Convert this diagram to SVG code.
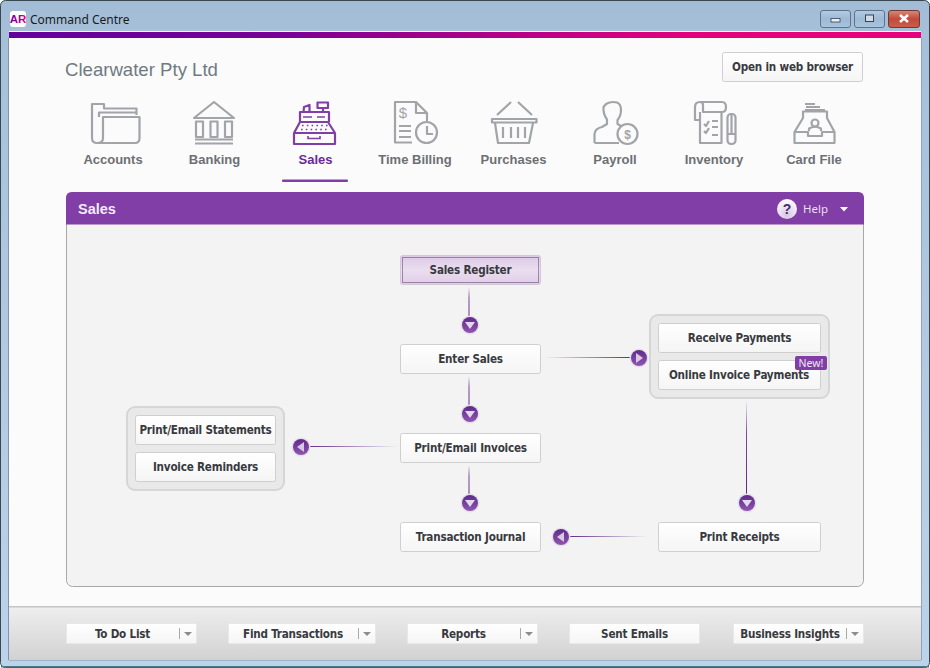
<svg xmlns="http://www.w3.org/2000/svg" width="930" height="668" viewBox="0 0 930 668">
<defs>
<linearGradient id="chrome" x1="0" y1="0" x2="0" y2="1"><stop offset="0" stop-color="#a3bcd6"/><stop offset="0.05" stop-color="#a6c0da"/><stop offset="1" stop-color="#bcd4e9"/></linearGradient>
<linearGradient id="bar" x1="0" y1="0" x2="1" y2="0"><stop offset="0" stop-color="#65009a"/><stop offset="0.3" stop-color="#7a0095"/><stop offset="0.75" stop-color="#e4007a"/><stop offset="1" stop-color="#e8007a"/></linearGradient>
<linearGradient id="foot" x1="0" y1="0" x2="0" y2="1"><stop offset="0" stop-color="#eeeeee"/><stop offset="1" stop-color="#d2d2d2"/></linearGradient>
<linearGradient id="btn" x1="0" y1="0" x2="0" y2="1"><stop offset="0" stop-color="#ffffff"/><stop offset="1" stop-color="#f5f5f5"/></linearGradient>
<linearGradient id="sel" x1="0" y1="0" x2="0" y2="1"><stop offset="0" stop-color="#dcc8e6"/><stop offset="0.5" stop-color="#ebdef0"/><stop offset="1" stop-color="#e0cce8"/></linearGradient>
<linearGradient id="dot" x1="0" y1="0" x2="0" y2="1"><stop offset="0" stop-color="#5f2a8c"/><stop offset="1" stop-color="#8f55b0"/></linearGradient>
<linearGradient id="v" x1="0" y1="0" x2="0" y2="1"><stop offset="0" stop-color="#f3f3f3"/><stop offset="0.35" stop-color="#7a4a98"/><stop offset="1" stop-color="#5f2a8c"/></linearGradient>
<linearGradient id="hr" x1="0" y1="0" x2="1" y2="0"><stop offset="0" stop-color="#f3f3f3"/><stop offset="1" stop-color="#5f2a8c"/></linearGradient>
<linearGradient id="hl" x1="0" y1="0" x2="1" y2="0"><stop offset="0" stop-color="#5f2a8c"/><stop offset="1" stop-color="#f3f3f3"/></linearGradient>
<linearGradient id="win" x1="0" y1="0" x2="0" y2="1"><stop offset="0" stop-color="#b4cbe2"/><stop offset="0.5" stop-color="#9db9d6"/><stop offset="1" stop-color="#aac4de"/></linearGradient>
<linearGradient id="close" x1="0" y1="0" x2="0" y2="1"><stop offset="0" stop-color="#d98a7c"/><stop offset="0.5" stop-color="#c24a3a"/><stop offset="1" stop-color="#c8604c"/></linearGradient>
<linearGradient id="ar" x1="0" y1="0" x2="1" y2="0"><stop offset="0" stop-color="#65009a"/><stop offset="1" stop-color="#e4007a"/></linearGradient>
<radialGradient id="help" cx="0.5" cy="0.8" r="0.8"><stop offset="0" stop-color="#d9c4e6"/><stop offset="1" stop-color="#ffffff"/></radialGradient>
<g id="dn"><circle r="9.5" fill="#e6e0ea"/><circle r="8" fill="url(#dot)"/><path d="M-5,-3 H5 L0,4 Z" fill="#e4d8ec"/></g>
<g id="rt"><circle r="9.5" fill="#e6e0ea"/><circle r="8" fill="url(#dot)"/><path d="M-3,-5 V5 L4,0 Z" fill="#d8c8e2"/></g>
<g id="lf"><circle r="9.5" fill="#e6e0ea"/><circle r="8" fill="url(#dot)"/><path d="M3,-5 V5 L-4,0 Z" fill="#d8c8e2"/></g>
</defs>
<style>
text{font-family:"DejaVu Sans",sans-serif}
.nav{font-family:"Liberation Sans",Arial,sans-serif;font-size:13px;font-weight:700;fill:#6d6f73;text-anchor:middle}
.btn{font-family:"DejaVu Sans",sans-serif;font-stretch:condensed;font-size:11.6px;letter-spacing:-0.2px;font-weight:700;fill:#383a3f;text-anchor:middle}
.box{fill:url(#btn);stroke:#cfcfcf;stroke-width:1}
.grp{fill:#e9e9e9;stroke:#d6d6d6;stroke-width:2}
.ic{fill:none;stroke:#a2a4a8;stroke-width:2.2;stroke-linejoin:round}
.ics{fill:none;stroke:#7f3fa5;stroke-width:2.2;stroke-linejoin:round}
.ft{fill:url(#btn);stroke:#e8e8e8;stroke-width:1}
.tri{fill:#8c8c8c}
.sep{stroke:#a9a9a9;stroke-width:1}
</style>
<g id="window">
<rect x="0.5" y="0.5" width="929" height="667" rx="5" fill="url(#chrome)" stroke="#3a4650"/>
<rect x="9" y="38" width="912" height="622" fill="#fbfbfc"/>
<rect x="9" y="31" width="912" height="7" fill="url(#bar)"/>
<rect x="9" y="31" width="912" height="1" fill="#f4f4f8"/>
<rect x="921" y="38" width="1" height="622" fill="#8fa4b8"/>
<rect x="8" y="38" width="1" height="622" fill="#7f94a8"/>
<rect x="9" y="607" width="912" height="53" fill="url(#foot)"/>
<rect x="9" y="606" width="912" height="1.5" fill="#c4c4c4"/>
<rect x="9" y="660" width="912" height="1" fill="#9fb4c8"/>
<rect x="1" y="666" width="928" height="1.5" fill="#4f7a86"/>
</g>
<g id="titlebar">
<rect x="10" y="11" width="16" height="16" rx="3" fill="#ffffff"/>
<text x="18" y="23" font-size="11.5" font-weight="700" fill="url(#ar)" text-anchor="middle" style="font-family:'Liberation Sans',sans-serif">AR</text>
<text x="30" y="24" font-size="12" fill="#1a1a1a" style="font-family:'Noto Sans',sans-serif">Command Centre</text>
<rect x="820.500" y="10.500" width="30" height="17" rx="2.500" fill="url(#win)" stroke="#5f7388"/>
<rect x="854.500" y="10.500" width="30" height="17" rx="2.500" fill="url(#win)" stroke="#5f7388"/>
<rect x="888.500" y="10.500" width="31" height="17" rx="2.500" fill="url(#close)" stroke="#6f3a34"/>
<rect x="831" y="18.500" width="9" height="3.500" fill="#e8eef4" stroke="#36424e" stroke-width="0.8"/>
<rect x="865.500" y="15" width="8" height="6.500" fill="#cfdbe6" stroke="#36424e" stroke-width="1"/>
<path d="M900,15 L908,22 M908,15 L900,22" stroke="#ffffff" stroke-width="2.500"/>
</g>
<g id="header">
<text x="65" y="76" font-size="18.600" fill="#6f7a82" style="font-family:'Liberation Sans',sans-serif">Clearwater Pty Ltd</text>
<rect x="722.500" y="52.500" width="140" height="29" rx="2" class="box"/>
<text class="btn" x="792.500" y="71">Open in web browser</text>
</g>
<g id="nav-accounts">
<path class="ic" d="M92,118 V104 H104 V108.500 H136.500 V115 M99,117 V112.500 H136 M92,118 V138 Q92,143 97,143 H135 Q139.500,143 139.500,138 V117 H103 V138 Q103,143 97,143"/>
<text class="nav" x="113" y="163.500">Accounts</text>
</g>
<g id="nav-banking">
<path class="ic" d="M194,118 L214,102 L234,118 Z"/>
<path class="ic" stroke-width="1.800" d="M196,121.500 V137 H203 V121.500 Z M210.500,121.500 V137 H217.500 V121.500 Z M225,121.500 V137 H232 V121.500 Z M195,139.500 H233 M195,143.500 H233"/>
<text class="nav" x="214.500" y="163.500">Banking</text>
</g>
<g id="nav-sales">
<path class="ics" d="M294,144 V133 H335 V144 Z M294,133 L300,122 H328 L335,133 M300,122 V112 H329 V122 M303.500,112 L304,107 L309.500,105 V112 M323,112 V108 M317.500,102.500 H328 V108 H317.500 Z"/>
<path d="M303,117 H312 M317,117 H325 M308,136 V138.500 H320 V136" stroke="#7f3fa5" stroke-width="1.600" fill="none"/>
<path d="M302,125.500 H328 M301,129.500 H329" stroke="#7f3fa5" stroke-width="1.600" stroke-dasharray="1.600 3.200" fill="none"/>
<text class="nav" x="315.500" y="163.500" style="fill:#6b2a96">Sales</text>
<rect x="282" y="179.500" width="66" height="2.500" rx="1" fill="#7f3fa5"/>
</g>
<g id="nav-billing">
<path class="ic" d="M412,142.500 H395 V102 H416 L427,113 V121 M416,102 V113 H427 M399,126 H411 M399,131 H411 M399,137 H411"/>
<circle class="ic" cx="426.500" cy="132.500" r="10.500"/>
<path class="ic" stroke-width="1.800" d="M427,126 V134 H433"/>
<text x="403" y="118" font-size="15" fill="#a2a4a8" text-anchor="middle" style="font-family:'Liberation Sans',sans-serif">$</text>
<text class="nav" x="415" y="163.500">Time Billing</text>
</g>
<g id="nav-purchases">
<path class="ic" d="M497,115 L511,102 M518,102 L532,115 M492,119 H536.500 V122.500 H492 Z M495,123 L498,143 H529 L533,123"/>
<path class="ic" stroke-width="1.800" d="M503,127 V138 M511,127 V138 M518,127 V138 M525,127 V138"/>
<text class="nav" x="513.500" y="163.500">Purchases</text>
</g>
<g id="nav-payroll">
<path class="ic" d="M594.500,143 V134 Q595,128.500 602,127 L607,124 V119.500 Q603,114 603.500,107 L606,104 Q611,101 617,102.500 Q621,104 621,110 Q621,116 617.500,120 V124 L621,126 M594.500,143 H619"/>
<circle class="ic" cx="627.500" cy="134" r="10"/>
<text x="627.500" y="138.500" font-size="12" font-weight="700" fill="#a2a4a8" text-anchor="middle" style="font-family:'Liberation Sans',sans-serif">$</text>
<text class="nav" x="615" y="163.500">Payroll</text>
</g>
<g id="nav-inventory">
<path class="ic" d="M699,120 H695 V107 Q695,102 700,102 H722 Q726,102 726,107 Q726,112 722,112 H703 V105 Q703,102 700,102 M700,112 V143 H721.500 V113"/>
<path class="ic" stroke-width="1.800" d="M704,124 L706,126 L709,121 M704,131 L706,133 L709,128 M712,121 H718 M712,127 H718 M712,135 H718"/>
<rect class="ic" x="727.500" y="114" width="8" height="30" rx="3.500"/>
<path class="ic" stroke-width="1.500" d="M731.500,115 V134 M727.500,134 H735.500"/>
<text class="nav" x="714" y="163.500">Inventory</text>
</g>
<g id="nav-card">
<path class="ic" d="M794.500,143 V132 L803,118 V111.500 H827 V118 L834.500,132 V143 Z M794.500,132 H808 V136 H822 V132 H834.500 M805,110 H825 M806,107 H820 M805,104 H815"/>
<circle class="ic" cx="815" cy="123" r="3.500" stroke-width="1.800"/>
<path class="ic" stroke-width="1.800" d="M809,131 V128.500 Q815,125 821,128.500 V131"/>
<text class="nav" x="814" y="163.500">Card File</text>
</g>
<g id="panel">
<rect x="66.500" y="192.500" width="797" height="394" rx="6" fill="#f3f3f3" stroke="#a8a8a8"/>
<path d="M66,224.500 V198 Q66,192 72,192 H858 Q864,192 864,198 V224.500 Z" fill="#813ea6"/>
<text x="78" y="214" font-size="14.500" font-weight="700" fill="#f3ecf7" style="font-family:'Liberation Sans',sans-serif">Sales</text>
<circle cx="787" cy="209" r="10" fill="url(#help)"/>
<text x="787" y="214" font-size="14" font-weight="700" fill="#4a2a6a" text-anchor="middle" style="font-family:'Liberation Sans',sans-serif">?</text>
<text x="803" y="213" font-size="11.500" fill="#eadff0" style="font-family:'Noto Sans',sans-serif">Help</text>
<path d="M840,207 H848 L844,211.500 Z" fill="#ffffff"/>
</g>
<g id="connectors" fill="none" stroke-width="1">
<rect x="468.500" y="287" width="1" height="30" fill="url(#v)"/>
<rect x="468.500" y="376" width="1" height="30" fill="url(#v)"/>
<rect x="468.500" y="465" width="1" height="30" fill="url(#v)"/>
<rect x="746" y="400" width="1" height="95" fill="url(#v)"/>
<rect x="544" y="357" width="88" height="1" fill="url(#hr)"/>
<rect x="308" y="446" width="90" height="1" fill="url(#hl)"/>
<rect x="569" y="536" width="78" height="1" fill="url(#hl)"/>
<use href="#dn" x="470" y="325"/>
<use href="#dn" x="470" y="414"/>
<use href="#dn" x="470" y="503"/>
<use href="#dn" x="747" y="503"/>
<use href="#rt" x="639" y="358"/>
<use href="#lf" x="301" y="447"/>
<use href="#lf" x="561" y="537"/>
</g>
<g id="node-sales-register">
<rect x="400.500" y="255.500" width="140" height="29" rx="2" fill="url(#sel)" stroke="#d8c4e0"/>
<rect x="402.500" y="257.500" width="136" height="25" fill="none" stroke="#4a3a55" stroke-width="1" stroke-dasharray="1 1"/>
<text class="btn" x="470.500" y="274">Sales Register</text>
</g>
<g id="node-enter-sales">
<rect class="box" x="400.500" y="344.500" width="140" height="29" rx="2"/>
<text class="btn" x="470.500" y="363">Enter Sales</text>
</g>
<g id="node-print-invoices">
<rect class="box" x="400.500" y="433.500" width="140" height="29" rx="2"/>
<text class="btn" x="470.500" y="452">Print/Email Invoices</text>
</g>
<g id="node-journal">
<rect class="box" x="400.500" y="522.500" width="140" height="29" rx="2"/>
<text class="btn" x="470.500" y="541">Transaction Journal</text>
</g>
<g id="node-receipts">
<rect class="box" x="658.500" y="522.500" width="162" height="29" rx="2"/>
<text class="btn" x="739.500" y="541">Print Receipts</text>
</g>
<g id="group-payments">
<rect class="grp" x="650" y="315" width="179" height="83" rx="8"/>
</g>
<g id="node-receive">
<rect class="box" x="658.500" y="323.500" width="162" height="29" rx="2"/>
<text class="btn" x="739.500" y="342">Receive Payments</text>
</g>
<g id="node-online">
<rect class="box" x="658.500" y="360.500" width="162" height="29" rx="2"/>
<text class="btn" x="739" y="379">Online Invoice Payments</text>
<rect x="795" y="356" width="32" height="14" rx="2" fill="#813ea6"/>
<text x="811" y="367" font-size="10.500" fill="#f0e6f5" text-anchor="middle" style="font-family:'Noto Sans',sans-serif">New!</text>
</g>
<g id="group-statements">
<rect class="grp" x="127" y="407" width="157" height="83" rx="8"/>
</g>
<g id="node-statements">
<rect class="box" x="135.500" y="415.500" width="140" height="29" rx="2"/>
<text class="btn" x="205.500" y="434">Print/Email Statements</text>
</g>
<g id="node-reminders">
<rect class="box" x="135.500" y="452.500" width="140" height="29" rx="2"/>
<text class="btn" x="205.500" y="471">Invoice Reminders</text>
</g>
<g id="footer-todo">
<rect class="ft" x="66.500" y="623.500" width="130" height="20" rx="1"/>
<text class="btn" x="122.500" y="638">To Do List</text>
<path class="sep" d="M179.500,628 V639"/><path class="tri" d="M184,632 H192 L188,636 Z"/>
</g>
<g id="footer-find">
<rect class="ft" x="228.500" y="623.500" width="147" height="20" rx="1"/>
<text class="btn" x="293" y="638">Find Transactions</text>
<path class="sep" d="M358.500,628 V639"/><path class="tri" d="M363,632 H371 L367,636 Z"/>
</g>
<g id="footer-reports">
<rect class="ft" x="407.500" y="623.500" width="130" height="20" rx="1"/>
<text class="btn" x="463.500" y="638">Reports</text>
<path class="sep" d="M520.500,628 V639"/><path class="tri" d="M525,632 H533 L529,636 Z"/>
</g>
<g id="footer-emails">
<rect class="ft" x="569.500" y="623.500" width="130" height="20" rx="1"/>
<text class="btn" x="634.500" y="638">Sent Emails</text>
</g>
<g id="footer-insights">
<rect class="ft" x="733.500" y="623.500" width="130" height="20" rx="1"/>
<text class="btn" x="790" y="638">Business Insights</text>
<path class="sep" d="M846.500,628 V639"/><path class="tri" d="M851,632 H859 L855,636 Z"/>
</g>
</svg>
